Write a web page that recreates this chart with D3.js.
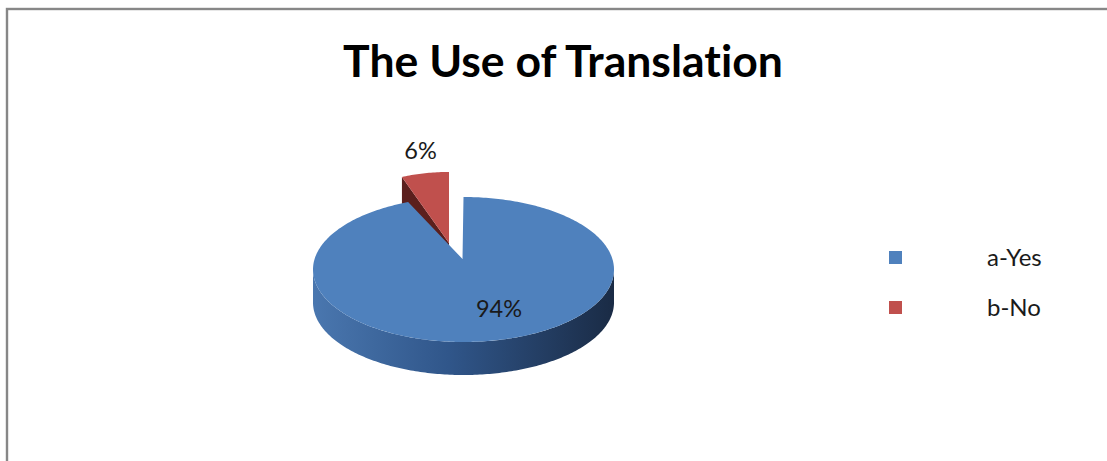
<!DOCTYPE html>
<html>
<head>
<meta charset="utf-8">
<script src="https://cdn.jsdelivr.net/npm/d3@7/dist/d3.min.js"></script>
<style>
  html, body { margin: 0; padding: 0; background: #fff; }
  svg { display: block; }
  text { font-variant-ligatures: none; font-feature-settings: "liga" 0, "clig" 0; }
</style>
</head>
<body>
<svg id="chart" width="1107" height="461"></svg>
<script>
// Survey answers: is translation used?
const categories = ["a-Yes", "b-No"];
const values = [94, 6];
const valueLabels = ["94%", "6%"];
const chartTitle = "The Use of Translation";

const colors = ["#4f81bd", "#c0504d"];
const sideColorNo = "#5b1f1d";

const svg = d3.select("#chart");

// outer chart frame (right and bottom edges run past the window)
svg.append("rect")
  .attr("x", 7).attr("y", 9)
  .attr("width", 1130).attr("height", 480)
  .attr("fill", "#fff")
  .attr("stroke", "#878787")
  .attr("stroke-width", 2.4);

// title, sized to its column width
const title = svg.append("text")
  .attr("x", 563).attr("y", 77)
  .attr("text-anchor", "middle")
  .attr("font-family", "Lato, 'Open Sans', sans-serif")
  .attr("font-weight", "bold")
  .attr("font-size", 40)
  .attr("fill", "#000")
  .text(chartTitle);
const tw = title.node().getComputedTextLength();
title.attr("font-size", 40 * 440 / tw);

// ---- 3D pie geometry ----
const cx = 463.5, cy = 269.5;    // centre of the top ellipse
const rx = 150.5, ry = 72.5;     // ellipse radii
const depth = 33;                // height of the pie wall
const hub = [462.5, 259];        // projected pie centre (perspective)
// pulled-out slice: its own hub and a slightly narrower projection
const hubOut = [449, 243];
const outScale = [0.85, 0.98];

const pie = d3.pie().sort(null).value(d => d).startAngle(0).endAngle(2 * Math.PI);
const arcs = pie(values);

// angle measured clockwise from 12 o'clock
const rimX = (a, f = 1) => cx + rx * f * Math.sin(a);
const rimY = (a, f = 1) => cy - ry * f * Math.cos(a);

function rimPoints(a0, a1, dz) {
  const n = Math.max(8, Math.ceil(Math.abs(a1 - a0) * 60));
  return d3.range(n + 1).map(i => {
    const a = a0 + (a1 - a0) * i / n;
    return [rimX(a), rimY(a) + dz];
  });
}
function outPoint(a, f = 1) {
  return [hubOut[0] + rx * outScale[0] * f * Math.sin(a),
          hubOut[1] - ry * outScale[1] * f * Math.cos(a)];
}

const line = d3.line();
const defs = svg.append("defs");
const grad = defs.append("linearGradient")
  .attr("id", "wallYes")
  .attr("gradientUnits", "userSpaceOnUse")
  .attr("x1", cx - rx).attr("x2", cx + rx)
  .attr("y1", 0).attr("y2", 0);
grad.append("stop").attr("offset", 0).attr("stop-color", "#4a77af");
grad.append("stop").attr("offset", 0.45).attr("stop-color", "#30568a");
grad.append("stop").attr("offset", 1).attr("stop-color", "#1a2b45");

const g = svg.append("g");

// --- exploded slice (No) ---
const no = arcs[1];
{
  const d = depth * 0.95;
  const [ox, oy] = outPoint(no.startAngle);
  const [hx, hy] = hubOut;
  // cut face along the leading radius
  g.append("path")
    .attr("d", line([[hx, hy], [ox, oy], [ox, oy + d], [hx, hy + d]]) + "Z")
    .attr("fill", sideColorNo);
  // top face
  const n = 24;
  const top = [hubOut].concat(d3.range(n + 1).map(i =>
    outPoint(no.startAngle + (no.endAngle - no.startAngle) * i / n)));
  g.append("path")
    .attr("d", line(top) + "Z")
    .attr("fill", colors[1]);
}

// --- main slice (Yes) ---
const yes = arcs[0];
{
  // front wall from 3 o'clock round to 9 o'clock
  const a0 = Math.PI / 2, a1 = 3 * Math.PI / 2;
  const upper = rimPoints(a0, a1, 0);
  const lower = rimPoints(a1, a0, depth);
  g.append("path")
    .attr("d", line(upper.concat(lower)) + "Z")
    .attr("fill", "url(#wallYes)");
  // top face
  const top = [hub].concat(rimPoints(yes.startAngle, yes.endAngle, 0));
  g.append("path")
    .attr("d", line(top) + "Z")
    .attr("fill", colors[0]);
}

// --- value labels ---
const labelFont = "Lato, 'Open Sans', sans-serif";
{
  const mid = (yes.startAngle + yes.endAngle) / 2;
  svg.append("text")
    .attr("x", rimX(mid, 0.55) + 20)
    .attr("y", rimY(mid, 0.55) + 8)
    .attr("text-anchor", "middle")
    .attr("font-family", labelFont)
    .attr("font-size", 23.5)
    .attr("fill", "#1a1a1a")
    .text(valueLabels[0]);
}
{
  const mid = (no.startAngle + no.endAngle) / 2;
  const [lx, ly] = outPoint(mid, 1.27);
  svg.append("text")
    .attr("x", lx + 2)
    .attr("y", ly + 5)
    .attr("text-anchor", "middle")
    .attr("font-family", labelFont)
    .attr("font-size", 23.5)
    .attr("fill", "#1a1a1a")
    .text(valueLabels[1]);
}

// --- legend ---
const legendY = d3.scalePoint().domain(categories).range([257.5, 307.5]);
const legend = svg.append("g");
categories.forEach((c, i) => {
  legend.append("rect")
    .attr("x", 889).attr("y", legendY(c) - 6.5)
    .attr("width", 13).attr("height", 13)
    .attr("fill", colors[i]);
  legend.append("text")
    .attr("x", 987).attr("y", legendY(c) + 8)
    .attr("font-family", labelFont)
    .attr("font-size", 24)
    .attr("fill", "#1a1a1a")
    .text(c);
});
</script>
</body>
</html>
